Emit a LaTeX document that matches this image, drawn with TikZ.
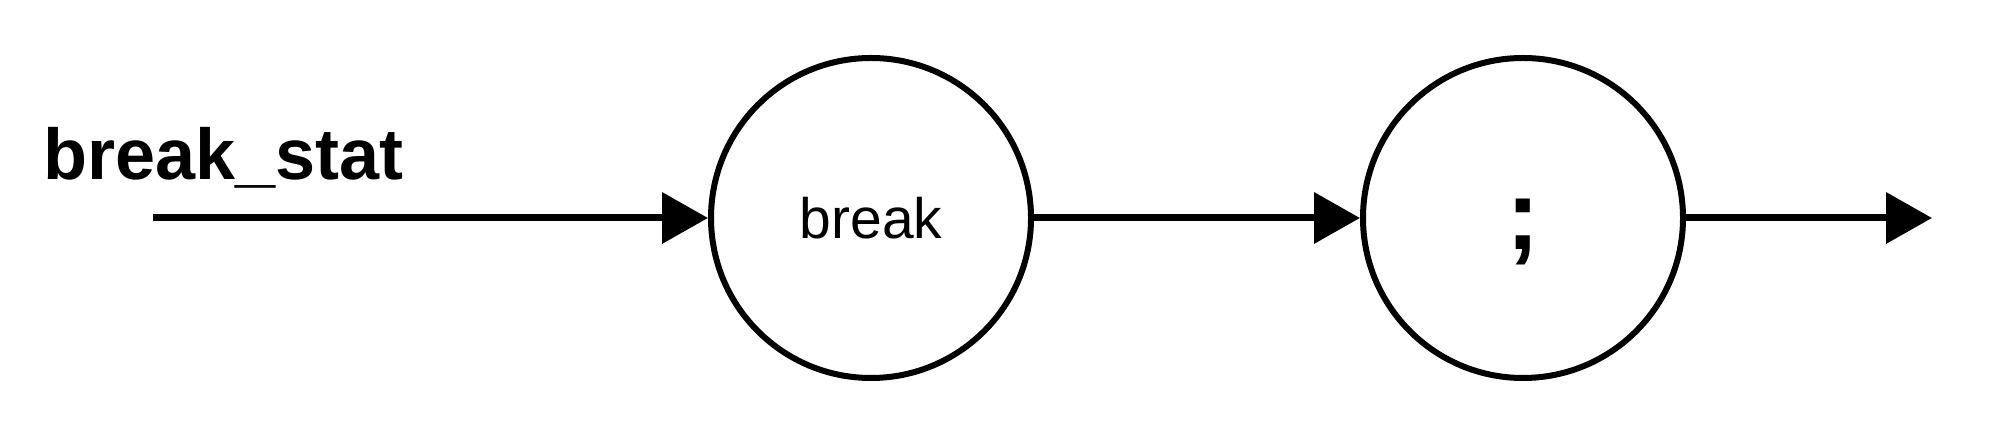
\documentclass[tikz,border=0pt]{standalone}
\usepackage{fontspec}
\setmainfont{Liberation Sans}
\usetikzlibrary{arrows.meta}
\begin{document}
\begin{tikzpicture}[x=0.5pt,y=0.5pt,
  state/.style={circle,draw=black,line width=3pt,minimum size=160pt,inner sep=0pt},
  conn/.style={line width=3.5pt,-{Triangle[length=23pt,width=25pt]}}]
\useasboundingbox (0,0) rectangle (2000,442);
\node[anchor=base west,inner sep=0pt,font=\fontsize{36pt}{36pt}\selectfont\bfseries] (title) at (43,262) {break\_stat};
\coordinate (start) at (153,224);
\node[state,font=\fontsize{28.5pt}{30pt}\selectfont] (kw) at (871,224) {break};
\node[state,font=\fontsize{50pt}{60pt}\selectfont\bfseries,text height=40pt,text depth=8pt] (semi) at (1523,224) {;};
\coordinate (end) at (1932,224);
\draw[conn] (start) -- (kw);
\draw[conn] (kw) -- (semi);
\draw[conn] (semi) -- (end);
\end{tikzpicture}
\end{document}
